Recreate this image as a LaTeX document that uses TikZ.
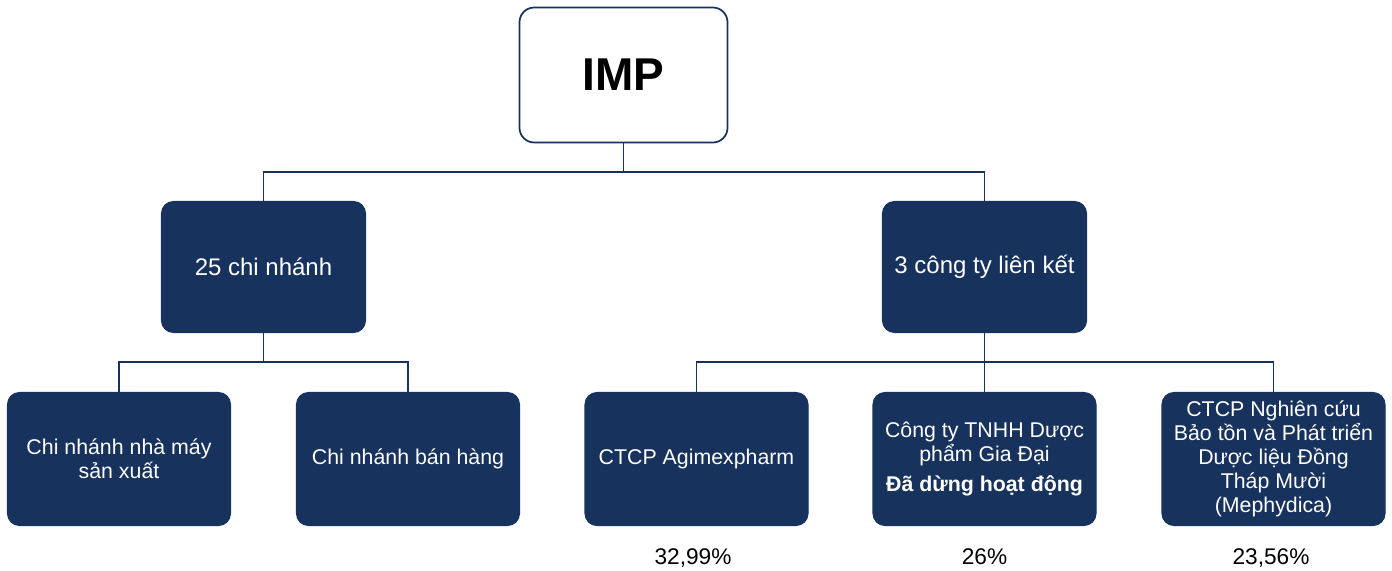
\documentclass[tikz,border=0pt]{standalone}
\usepackage{fontspec}
\setmainfont{Liberation Sans}
\definecolor{navy}{RGB}{23,50,92}
\definecolor{linec}{RGB}{23,50,92}
\begin{document}
\begin{tikzpicture}[x=0.75pt,y=-0.75pt,
  navybox/.style={draw=navy,fill=navy,rounded corners=9pt,text=white,align=center,
    font=\fontsize{16}{18}\selectfont,inner sep=0pt,line width=0.8pt},
  small/.style={navybox,font=\fontsize{18}{21}\selectfont,minimum width=204*0.75pt,minimum height=131*0.75pt},
  wide/.style={navybox,minimum width=223*0.75pt,minimum height=133*0.75pt},
  conn/.style={draw=linec,line width=1.3pt},
  pct/.style={font=\fontsize{17}{20}\selectfont,inner sep=0pt,anchor=base}]
\useasboundingbox (0,0) rectangle (1392,571);
\node[draw=navy,fill=white,rounded corners=11pt,line width=1.3pt,minimum width=208*0.75pt,minimum height=135*0.75pt,font=\fontsize{34.5}{40}\selectfont\bfseries] (imp) at (623.5,75) {IMP};
\node[small] (cn) at (263.5,267) {25 chi nhánh};
\node[small] (lk) at (984.5,267) {3 công ty liên kết};
\node[wide] (b1) at (119,459) {Chi nhánh nhà máy\\sản xuất};
\node[wide] (b2) at (408,459) {Chi nhánh bán hàng};
\node[wide] (b3) at (696.5,459) {CTCP Agimexpharm};
\node[wide] (b4) at (984.5,459) {Công ty TNHH Dược\\phẩm Gia Đại\\[4pt]\textbf{Đã dừng hoạt động}};
\node[wide] (b5) at (1273.5,459) {CTCP Nghiên cứu\\Bảo tồn và Phát triển\\Dược liệu Đồng\\Tháp Mười\\(Mephydica)};
\coordinate (y1) at (0,172);
\coordinate (y2) at (0,362);
\coordinate (j1) at (imp.south |- y1);
\coordinate (j2) at (cn.south |- y2);
\coordinate (j3) at (lk.south |- y2);
\draw[conn] (imp.south) -- (j1);
\draw[conn] (cn.north) |- (j1) -| (lk.north);
\draw[conn] (cn.south) -- (j2);
\draw[conn] (b1.north) |- (j2) -| (b2.north);
\draw[conn] (lk.south) -- (j3);
\draw[conn] (b3.north) |- (j3) -| (b5.north);
\draw[conn] (j3) -- (b4.north);
\node[pct] (p3) at (693,564) {32,99\%};
\node[pct] (p4) at (984.5,564) {26\%};
\node[pct] (p5) at (1271,564) {23,56\%};
\end{tikzpicture}
\end{document}
